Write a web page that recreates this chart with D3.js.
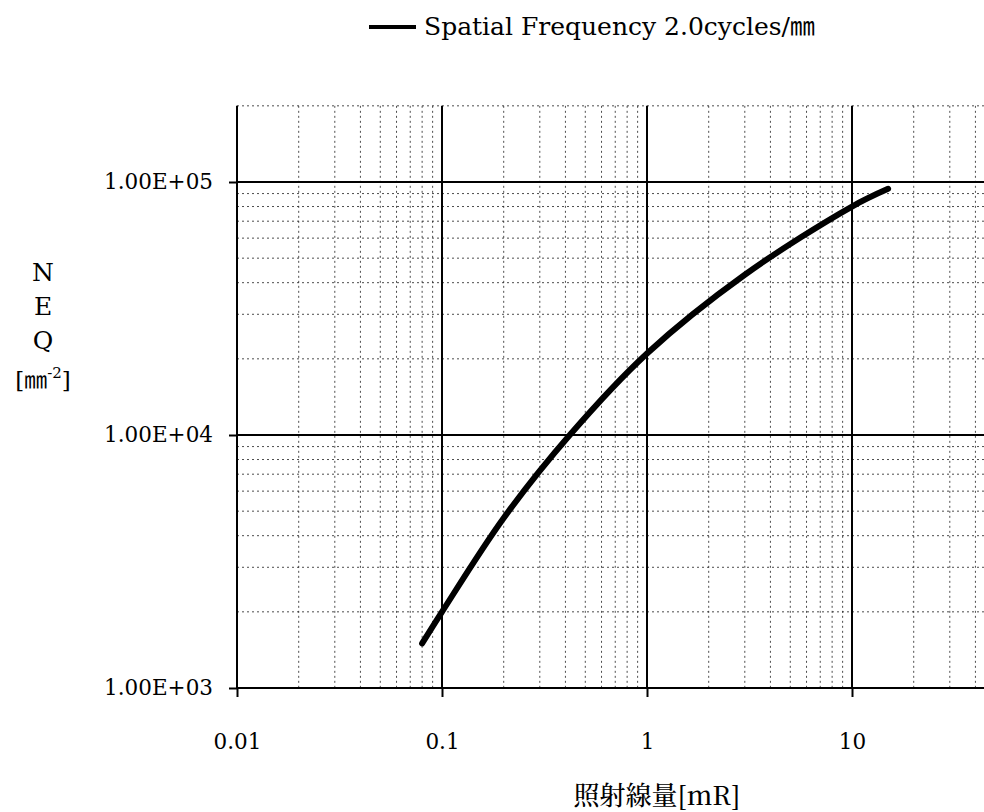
<!DOCTYPE html>
<html>
<head>
<meta charset="utf-8">
<script src="https://cdn.jsdelivr.net/npm/d3@7"></script>
<style>
  html, body { margin: 0; padding: 0; background: #fff; }
  svg { display: block; }
</style>
</head>
<body>
<div id="chart"></div>
<script>
// exposure [mR] vs NEQ [mm^-2]
const exposure = [0.08, 0.1, 0.2, 0.42, 1, 3, 10, 15];
const neq = [1500, 2000, 4700, 10000, 21000, 43000, 80000, 94000];

const xTicks = [0.01, 0.1, 1, 10];
const xTickLabels = ["0.01", "0.1", "1", "10"];
const yTicks = [1e3, 1e4, 1e5];
const yTickLabels = ["1.00E+03", "1.00E+04", "1.00E+05"];

const seriesName = "Spatial Frequency 2.0cycles/\u339C";
const xTitle = "照射線量[mR]";
const yTitleLetters = ["N", "E", "Q"];

const W = 984, H = 812;
const serif = "'DejaVu Serif', 'Noto Sans CJK JP', serif";

const svg = d3.select("#chart").append("svg")
  .attr("width", W)
  .attr("height", H);

const x = d3.scaleLog()
  .domain([0.01, 100])
  .range([237, 1057]);

const y = d3.scaleLog()
  .domain([1e3, 2e5])
  .range([688, 688 - 253 * Math.log10(200)]);

// minor grid values 2..9 in each decade
const xMinor = [];
[0.01, 0.1, 1, 10].forEach(d => { for (let k = 2; k <= 9; k++) xMinor.push(d * k); });
const yMinor = [];
[1e3, 1e4].forEach(d => { for (let k = 2; k <= 9; k++) yMinor.push(d * k); });
yMinor.push(2e5);

const grid = svg.append("g");

grid.selectAll("line.vminor")
  .data(xMinor)
  .join("line")
  .attr("x1", d => x(d)).attr("x2", d => x(d))
  .attr("y1", y(2e5)).attr("y2", y(1e3))
  .attr("stroke", "#222")
  .attr("stroke-width", 1)
  .attr("stroke-dasharray", "2,3")
  .attr("opacity", 0.8);

grid.selectAll("line.hminor")
  .data(yMinor)
  .join("line")
  .attr("x1", x(0.01)).attr("x2", W)
  .attr("y1", d => y(d)).attr("y2", d => y(d))
  .attr("stroke", "#222")
  .attr("stroke-width", 1)
  .attr("stroke-dasharray", "2,3")
  .attr("opacity", 0.8);

// major grid
grid.selectAll("line.vmajor")
  .data(xTicks.slice(1))
  .join("line")
  .attr("x1", d => x(d)).attr("x2", d => x(d))
  .attr("y1", y(2e5)).attr("y2", y(1e3))
  .attr("stroke", "#000")
  .attr("stroke-width", 2);

grid.selectAll("line.hmajor")
  .data(yTicks.slice(1))
  .join("line")
  .attr("x1", x(0.01)).attr("x2", W)
  .attr("y1", d => y(d)).attr("y2", d => y(d))
  .attr("stroke", "#000")
  .attr("stroke-width", 2);

// axes
const xAxis = svg.append("g")
  .attr("transform", `translate(0,${y(1e3)})`)
  .call(d3.axisBottom(x).tickValues(xTicks).tickFormat((d, i) => xTickLabels[i]).tickSize(9).tickPadding(37));

const yAxis = svg.append("g")
  .attr("transform", `translate(${x(0.01)},0)`)
  .call(d3.axisLeft(y).tickValues(yTicks).tickFormat((d, i) => yTickLabels[i]).tickSize(8).tickPadding(16));

[xAxis, yAxis].forEach(g => {
  g.select(".domain").attr("stroke", "#000").attr("stroke-width", 2);
  g.selectAll(".tick line").attr("stroke", "#000").attr("stroke-width", 2);
  g.selectAll(".tick text")
    .attr("fill", "#000")
    .style("font-family", serif)
    .style("font-size", "21.5px");
});
yAxis.select(".domain").attr("d", `M0,${y(2e5)}V${y(1e3)}`);
xAxis.select(".domain").attr("d", `M${x(0.01)},0H${W}`);

// curve
const line = d3.line()
  .x((d, i) => x(exposure[i]))
  .y(d => y(d))
  .curve(d3.curveCatmullRom.alpha(0.5));

svg.append("path")
  .datum(neq)
  .attr("fill", "none")
  .attr("stroke", "#000")
  .attr("stroke-width", 6)
  .attr("stroke-linecap", "round")
  .attr("stroke-linejoin", "round")
  .attr("d", line);

// legend
svg.append("line")
  .attr("x1", 369).attr("x2", 416)
  .attr("y1", 27).attr("y2", 27)
  .attr("stroke", "#000")
  .attr("stroke-width", 4);

svg.append("text")
  .attr("x", 424)
  .attr("y", 35)
  .style("font-family", serif)
  .style("font-size", "25px")
  .text(seriesName);

// y title
const yTitle = svg.append("g").style("font-family", serif).style("font-size", "25px").attr("text-anchor", "middle");
yTitleLetters.forEach((c, i) => {
  yTitle.append("text")
    .attr("x", 43)
    .attr("y", 281 + i * 34)
    .text(c);
});
const unit = yTitle.append("text")
  .attr("x", 43)
  .attr("y", 388)
  .style("font-size", "23px");
unit.append("tspan").text("[\u339C");
unit.append("tspan").attr("dy", -10).style("font-size", "15px").text("-2");
unit.append("tspan").attr("dy", 10).text("]");

// x title
svg.append("text")
  .attr("x", 657)
  .attr("y", 805)
  .attr("text-anchor", "middle")
  .style("font-family", "'Noto Serif CJK JP', 'Noto Sans CJK JP', serif")
  .style("font-weight", 500)
  .style("font-size", "26px")
  .text(xTitle);
</script>
</body>
</html>
